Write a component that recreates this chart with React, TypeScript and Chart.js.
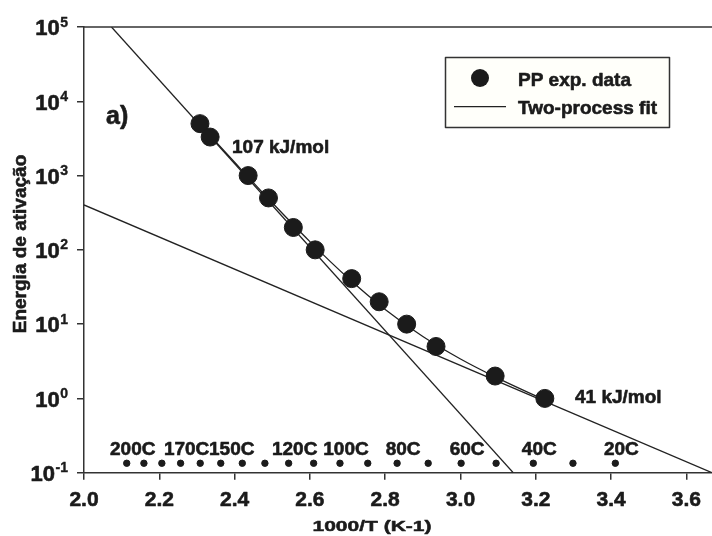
import React, { useEffect, useRef } from 'react';
import { Chart, registerables } from 'chart.js';

Chart.register(...registerables);

// ---- data ----
const invT = [2.308, 2.335, 2.436, 2.49, 2.556, 2.614, 2.711, 2.784, 2.857, 2.935, 3.092, 3.224];
const energy = [5000, 3300, 1000, 500, 200, 100, 41, 20, 10, 5, 2, 1];

// 107 kJ/mol straight line (end points at the plot borders)
const fastX = [2.073, 3.14];
const fastY = [100000, 0.1];
// 41 kJ/mol straight line
const slowX = [2.0, 3.668];
const slowY = [402, 0.1];
// two-process fit curve
const fitX = [2.3, 2.4, 2.5, 2.6, 2.7, 2.8, 2.9, 3.0, 3.1, 3.23];
const fitY = [5400, 1510, 430, 129, 42.3, 15.7, 6.8, 3.39, 1.86, 0.92];

// temperature markers (°C) along the bottom
const tempsC = [200, 190, 180, 170, 160, 150, 140, 130, 120, 110, 100, 90, 80, 70, 60, 50, 40, 30, 20];
const tempLabelValues = [200, 170, 150, 120, 100, 80, 60, 40, 20];
const tempMarkerY = 0.134;

const xTicks = [2.0, 2.2, 2.4, 2.6, 2.8, 3.0, 3.2, 3.4, 3.6];
const yExponents = [-1, 0, 1, 2, 3, 4, 5];
const X_MIN = 2.0;
const X_MAX = 3.668;
const Y_MIN = 0.1;
const Y_MAX = 100000;

const seriesLabels = ['PP exp. data', 'Two-process fit'];
const rateLabels = ['107 kJ/mol', '41 kJ/mol'];
const panelLabel = 'a)';
const xTitle = '1000/T (K-1)';
const yTitle = 'Energia de ativação';

const FONT = '"Liberation Sans", Arial, Helvetica, sans-serif';
const INK = '#1b1b1b';
const AXIS = '#333333';

const toInvT = (c: number) => 1000 / (c + 273.15);

function boldText(ctx: CanvasRenderingContext2D, s: string, x: number, y: number, w = 0.6) {
  ctx.fillText(s, x, y);
  ctx.lineWidth = w;
  ctx.strokeStyle = INK;
  ctx.strokeText(s, x, y);
}

const overlay = {
  id: 'overlay',
  afterDraw(chart: any) {
    const ctx = chart.ctx as CanvasRenderingContext2D;
    const { left, right, top, bottom } = chart.chartArea;
    const xs = chart.scales.x;
    const ys = chart.scales.y;
    ctx.save();
    ctx.lineJoin = 'round';

    // top frame line
    ctx.strokeStyle = AXIS;
    ctx.lineWidth = 1.5;
    ctx.beginPath();
    ctx.moveTo(left, top);
    ctx.lineTo(right, top);
    ctx.stroke();

    ctx.fillStyle = INK;
    ctx.textBaseline = 'alphabetic';

    // x tick labels
    ctx.font = `bold 21px ${FONT}`;
    ctx.textAlign = 'center';
    xTicks.forEach((v) => {
      boldText(ctx, v.toFixed(1), xs.getPixelForValue(v), bottom + 33);
    });

    // y tick labels 10^k
    yExponents.forEach((k) => {
      const py = ys.getPixelForValue(Math.pow(10, k));
      const exp = String(k);
      ctx.font = `bold 14px ${FONT}`;
      ctx.textAlign = 'right';
      const ew = ctx.measureText(exp).width;
      const xr = left - 16;
      boldText(ctx, exp, xr, py - 0.5, 0.4);
      ctx.font = `bold 22px ${FONT}`;
      boldText(ctx, '10', xr - ew - 0.5, py + 8.3);
    });

    // temperature labels
    ctx.font = `bold 19px ${FONT}`;
    ctx.textAlign = 'center';
    const dotY = ys.getPixelForValue(tempMarkerY);
    tempLabelValues.forEach((t) => {
      let px = xs.getPixelForValue(toInvT(t)) + 6;
      if (t === 150) px += 5;
      boldText(ctx, `${t}C`, px, dotY - 8);
    });

    // annotations
    ctx.textAlign = 'left';
    boldText(ctx, rateLabels[0], 232, 153);
    boldText(ctx, rateLabels[1], 575, 403);
    ctx.font = `bold 25px ${FONT}`;
    boldText(ctx, panelLabel, 106, 123.5);

    // legend
    ctx.fillStyle = '#fffffa';
    ctx.fillRect(445.5, 57.5, 224, 70);
    ctx.strokeStyle = AXIS;
    ctx.lineWidth = 1.5;
    ctx.strokeRect(445.5, 57.5, 224, 70);
    ctx.fillStyle = INK;
    ctx.beginPath();
    ctx.arc(480, 78, 9, 0, Math.PI * 2);
    ctx.fill();
    ctx.strokeStyle = '#222';
    ctx.lineWidth = 1.3;
    ctx.beginPath();
    ctx.moveTo(454, 106.7);
    ctx.lineTo(506, 106.7);
    ctx.stroke();
    ctx.font = `bold 19px ${FONT}`;
    ctx.textAlign = 'left';
    boldText(ctx, seriesLabels[0], 518, 85.8);
    boldText(ctx, seriesLabels[1], 518, 113.8);

    // x axis title (squat glyphs as in the reference)
    ctx.textAlign = 'center';
    ctx.save();
    ctx.translate(372, 530.5);
    ctx.scale(1, 0.72);
    ctx.font = `bold 21px ${FONT}`;
    boldText(ctx, xTitle, 0, 0, 0.7);
    ctx.restore();

    // y axis title
    ctx.save();
    ctx.translate(25.5, 244);
    ctx.rotate(-Math.PI / 2);
    ctx.font = `bold 19px ${FONT}`;
    boldText(ctx, yTitle, 0, 0);
    ctx.restore();

    ctx.restore();
  },
};

export default function App() {
  const ref = useRef<HTMLCanvasElement | null>(null);
  useEffect(() => {
    if (!ref.current) return;
    const pts = (xa: number[], ya: number[]) => xa.map((x, i) => ({ x, y: ya[i] }));
    const chart = new Chart(ref.current, {
      type: 'scatter',
      data: {
        datasets: [
          {
            label: seriesLabels[0],
            data: pts(invT, energy),
            pointRadius: 9,
            pointBackgroundColor: INK,
            pointBorderColor: INK,
            showLine: false,
          },
          {
            label: seriesLabels[1],
            data: pts(fitX, fitY),
            showLine: true,
            pointRadius: 0,
            borderColor: '#222',
            borderWidth: 1.3,
            cubicInterpolationMode: 'monotone',
          },
          {
            label: rateLabels[0],
            data: pts(fastX, fastY),
            showLine: true,
            pointRadius: 0,
            borderColor: '#222',
            borderWidth: 1.3,
          },
          {
            label: rateLabels[1],
            data: pts(slowX, slowY),
            showLine: true,
            pointRadius: 0,
            borderColor: '#222',
            borderWidth: 1.3,
          },
          {
            label: 'T',
            data: tempsC.map((c) => ({ x: toInvT(c), y: tempMarkerY })),
            showLine: false,
            pointRadius: 3.2,
            pointBackgroundColor: INK,
            pointBorderColor: INK,
          },
        ],
      } as any,
      options: {
        animation: false,
        responsive: false,
        maintainAspectRatio: false,
        layout: { autoPadding: false, padding: { top: 27, left: 0, right: 0, bottom: 0 } },
        plugins: { legend: { display: false }, tooltip: { enabled: false } },
        scales: {
          x: {
            type: 'linear',
            min: X_MIN,
            max: X_MAX,
            afterBuildTicks: (s: any) => {
              s.ticks = xTicks.map((v) => ({ value: v }));
            },
            afterFit: (s: any) => {
              s.height = 63.3;
              s.paddingLeft = 0;
              s.paddingRight = 0;
            },
            ticks: { display: false },
            grid: {
              display: true,
              drawOnChartArea: false,
              drawTicks: true,
              tickLength: 7,
              color: AXIS,
              lineWidth: 1.5,
            },
            border: { display: true, color: AXIS, width: 1.5 },
          },
          y: {
            type: 'logarithmic',
            min: Y_MIN,
            max: Y_MAX,
            afterBuildTicks: (s: any) => {
              s.ticks = yExponents.map((k) => ({ value: Math.pow(10, k) }));
            },
            afterFit: (s: any) => {
              s.width = 84;
              s.paddingTop = 0;
              s.paddingBottom = 0;
            },
            ticks: { display: false },
            grid: {
              display: true,
              drawOnChartArea: false,
              drawTicks: true,
              tickLength: 7,
              color: AXIS,
              lineWidth: 1.5,
            },
            border: { display: true, color: AXIS, width: 1.5 },
          },
        },
      } as any,
      plugins: [overlay],
    });
    return () => chart.destroy();
  }, []);
  return (
    <div style={{ position: 'absolute', left: 0, top: 0, width: 712, height: 536, background: '#fff' }}>
      <canvas ref={ref} width={712} height={536} style={{ width: 712, height: 536, display: 'block' }} />
    </div>
  );
}
